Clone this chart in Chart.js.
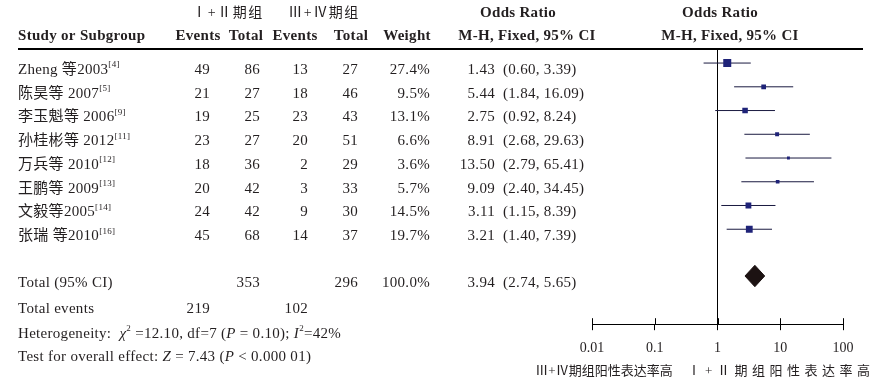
<!DOCTYPE html>
<html>
<head>
<meta charset="utf-8">
<script src="https://cdn.jsdelivr.net/npm/chart.js@4.4.0/dist/chart.umd.min.js"></script>
<style>
  body { margin: 0; background: #fff; }
  #wrap { width: 888px; height: 388px; }
</style>
</head>
<body>
<div id="wrap"><canvas id="forest" width="888" height="388"></canvas></div>
<script>
// study data
const studies = ['Zheng 等2003', '陈昊等 2007', '李玉魁等 2006', '孙桂彬等 2012', '万兵等 2010', '王鹏等 2009', '文毅等2005', '张瑞 等2010']
const refs = ['[4]', '[5]', '[9]', '[11]', '[12]', '[13]', '[14]', '[16]']
const events1 = [49, 21, 19, 23, 18, 20, 24, 45]
const total1 = [86, 27, 25, 27, 36, 42, 42, 68]
const events2 = [13, 18, 23, 20, 2, 3, 9, 14]
const total2 = [27, 46, 43, 51, 29, 33, 30, 37]
const weights = [27.4, 9.5, 13.1, 6.6, 3.6, 5.7, 14.5, 19.7]
const oddsRatio = [1.43, 5.44, 2.75, 8.91, 13.50, 9.09, 3.11, 3.21]
const ciLow = [0.60, 1.84, 0.92, 2.68, 2.79, 2.40, 1.15, 1.40]
const ciHigh = [3.39, 16.09, 8.24, 29.63, 65.41, 34.45, 8.39, 7.39]

// pooled result
const pooledOR = 3.94
const pooledLow = 2.74
const pooledHigh = 5.65
const pooledTotals = [353, 296]
const pooledEvents = [219, 102]
const totalRow = 8.97

const axisTicks = [0.01, 0.1, 1, 10, 100]
const tickLabels = ['0.01', '0.1', '1', '10', '100']

const serif = '"Liberation Serif", "Noto Sans CJK SC", serif'
const txt = '#231f20'
const navy = '#1f2378'
const fs = 15

function font(size, style) {
  return `${style || ''} ${size}px ${serif}`
}

function fixed(v) {
  return v.toFixed(2)
}

// draws a list of text runs left to right
function drawRuns(ctx, x, y, runs) {
  runs.forEach(r => {
    if (r.sup) {
      ctx.font = font(9)
      ctx.fillText(r.t, x, y - 5)
    } else {
      ctx.font = font(fs, r.i ? 'italic' : '')
      ctx.fillText(r.t, x, y)
    }
    x += ctx.measureText(r.t).width
  })
}

const tablePlugin = {
  id: 'table',
  afterDraw(chart) {
    const ctx = chart.ctx
    const ys = chart.scales.y
    const xs = chart.scales.x
    const area = chart.chartArea
    ctx.save()
    ctx.fillStyle = txt
    ctx.textBaseline = 'middle'

    // header line
    ctx.fillStyle = '#000'
    ctx.fillRect(18, 48, 845, 2)
    ctx.fillStyle = txt

    // group headers
    ctx.textAlign = 'center'
    ctx.font = font(14)
    ctx.letterSpacing = '1.5px'
    ctx.fillText('Ⅰ+Ⅱ期组', 228, 13)
    ctx.fillText('Ⅲ+Ⅳ期组', 324, 13)
    ctx.letterSpacing = '0.3px'

    ctx.font = font(fs, 'bold')
    ctx.fillText('Odds Ratio', 518, 13)
    ctx.fillText('Odds Ratio', 720, 13)
    ctx.fillText('M-H, Fixed, 95% CI', 527, 36)
    ctx.fillText('M-H, Fixed, 95% CI', 730, 36)
    ctx.fillText('Events', 198, 36)
    ctx.fillText('Total', 246, 36)
    ctx.fillText('Events', 295, 36)
    ctx.fillText('Total', 351, 36)
    ctx.fillText('Weight', 407, 36)
    ctx.textAlign = 'left'
    ctx.fillText('Study or Subgroup', 18, 36)

    // study rows
    studies.forEach((name, i) => {
      const y = ys.getPixelForValue(i) + 7
      ctx.textAlign = 'left'
      drawRuns(ctx, 18, y, [{ t: name }, { t: refs[i], sup: true }])
      ctx.font = font(fs)
      ctx.textAlign = 'right'
      ctx.fillText(events1[i], 210, y)
      ctx.fillText(total1[i], 260, y)
      ctx.fillText(events2[i], 308, y)
      ctx.fillText(total2[i], 358, y)
      ctx.fillText(weights[i].toFixed(1) + '%', 430, y)
      ctx.fillText(fixed(oddsRatio[i]), 495, y)
      ctx.textAlign = 'left'
      ctx.fillText(`(${fixed(ciLow[i])}, ${fixed(ciHigh[i])})`, 503, y)
    })

    // totals
    const yt = ys.getPixelForValue(totalRow) + 7
    ctx.font = font(fs)
    ctx.textAlign = 'left'
    ctx.fillText('Total (95% CI)', 18, yt)
    ctx.fillText(`(${fixed(pooledLow)}, ${fixed(pooledHigh)})`, 503, yt)
    ctx.textAlign = 'right'
    ctx.fillText(pooledTotals[0], 260, yt)
    ctx.fillText(pooledTotals[1], 358, yt)
    ctx.fillText('100.0%', 430, yt)
    ctx.fillText(fixed(pooledOR), 495, yt)

    ctx.fillText(pooledEvents[0], 210, 309)
    ctx.fillText(pooledEvents[1], 308, 309)
    ctx.textAlign = 'left'
    ctx.fillText('Total events', 18, 309)

    drawRuns(ctx, 18, 334, [
      { t: 'Heterogeneity:  ' }, { t: 'χ', i: true }, { t: '2', sup: true },
      { t: ' =12.10, df=7 (' }, { t: 'P', i: true }, { t: ' = 0.10); ' },
      { t: 'I', i: true }, { t: '2', sup: true }, { t: '=42%' }
    ])
    drawRuns(ctx, 18, 357, [
      { t: 'Test for overall effect: ' }, { t: 'Z', i: true }, { t: ' = 7.43 (' },
      { t: 'P', i: true }, { t: ' < 0.000 01)' }
    ])

    // upper half of the axis ticks
    ctx.strokeStyle = '#000'
    ctx.lineWidth = 1
    axisTicks.forEach(v => {
      const x = Math.round(xs.getPixelForValue(v)) + 0.5
      ctx.beginPath()
      ctx.moveTo(x, area.bottom - 6)
      ctx.lineTo(x, area.bottom)
      ctx.stroke()
    })

    // favours labels
    ctx.font = font(13)
    ctx.textAlign = 'center'
    ctx.letterSpacing = '0px'
    ctx.fillText('Ⅲ+Ⅳ期组阳性表达率高', 604, 372)
    ctx.letterSpacing = '4.5px'
    ctx.fillText('Ⅰ+Ⅱ期组阳性表达率高', 781, 372)
    ctx.restore()
  }
}

const squares = {
  data: oddsRatio.map((v, i) => ({ x: v, y: i })),
  pointStyle: 'rect',
  pointRadius: weights.map(w => 1.08 * Math.sqrt(w)),
  backgroundColor: navy,
  borderWidth: 0
}

const ciLines = studies.map((s, i) => ({
  data: [{ x: ciLow[i], y: i }, { x: ciHigh[i], y: i }],
  showLine: true,
  borderColor: '#1a1a40',
  borderWidth: 1,
  pointRadius: 0
}))

const nullLine = {
  data: [{ x: 1, y: -0.55 }, { x: 1, y: 11 }],
  showLine: true,
  borderColor: '#000',
  borderWidth: 1,
  pointRadius: 0
}

const diamond = {
  data: [
    { x: pooledLow, y: totalRow },
    { x: pooledOR, y: totalRow - 0.45 },
    { x: pooledHigh, y: totalRow },
    { x: pooledOR, y: totalRow + 0.45 },
    { x: pooledLow, y: totalRow }
  ],
  showLine: true,
  fill: 'shape',
  backgroundColor: '#1c1212',
  borderColor: '#1c1212',
  borderWidth: 1,
  pointRadius: 0
}

new Chart(document.getElementById('forest'), {
  type: 'scatter',
  data: { datasets: [squares, diamond, ...ciLines, nullLine] },
  options: {
    responsive: false,
    animation: false,
    layout: { padding: { left: 592, right: 45, top: 50, bottom: 21 } },
    plugins: { legend: { display: false }, tooltip: { enabled: false } },
    scales: {
      x: {
        type: 'logarithmic',
        min: 0.01,
        max: 100,
        position: 'bottom',
        afterBuildTicks: scale => { scale.ticks = axisTicks.map(v => ({ value: v })) },
        ticks: {
          callback: (v, i) => tickLabels[i],
          font: { family: serif, size: 14 },
          color: txt,
          padding: 10,
          maxRotation: 0,
          autoSkip: false
        },
        grid: { drawOnChartArea: false, tickLength: 6, color: '#000' },
        border: { color: '#000', width: 1 }
      },
      y: { type: 'linear', reverse: true, min: -0.55, max: 11, display: false }
    }
  },
  plugins: [tablePlugin]
})
</script>
</body>
</html>
